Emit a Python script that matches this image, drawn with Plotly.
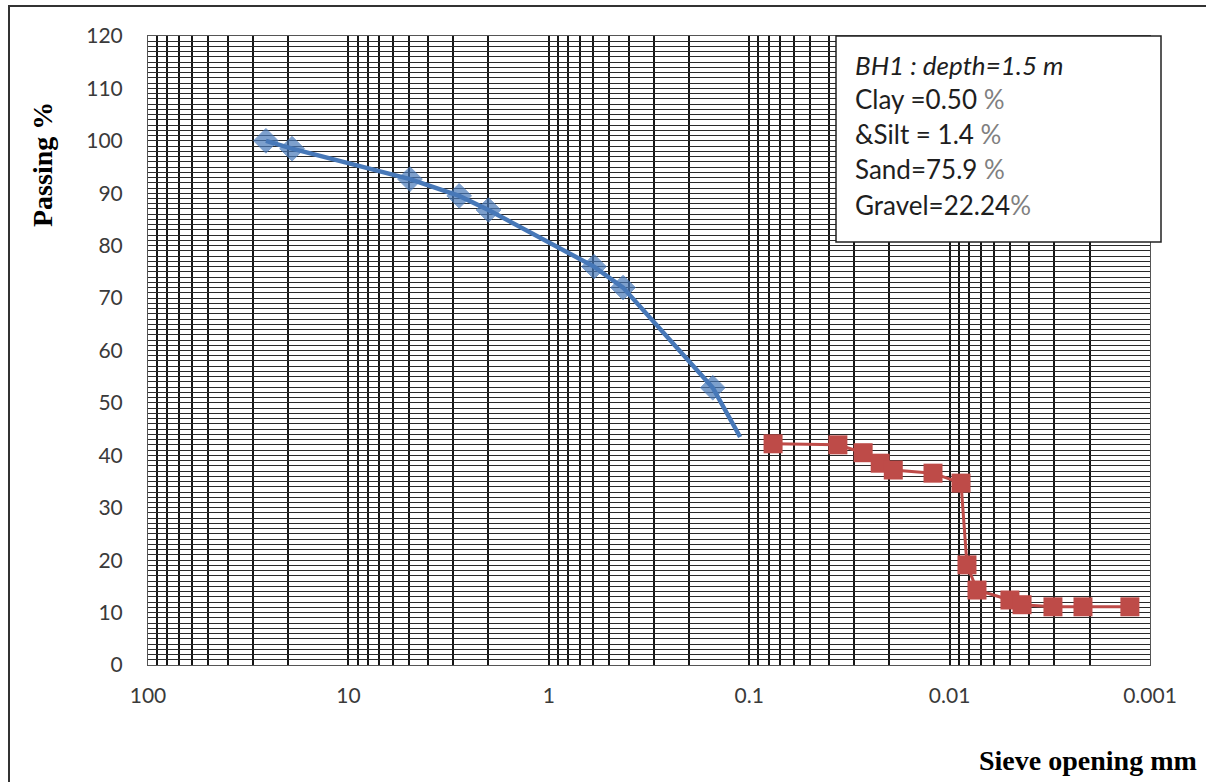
import plotly.graph_objects as go

# ---- data ----
blue_size_mm = [25.8, 19.1, 4.93, 2.8, 2.0, 0.595, 0.426, 0.152, 0.111]
blue_passing = [100.0, 98.5, 92.7, 89.5, 86.8, 76.0, 72.0, 52.9, 43.5]
blue_marker = [19, 19, 19, 19, 19, 19, 19, 19, 0]

red_size_mm = [0.076, 0.0361, 0.0270, 0.0222, 0.0191, 0.0121, 0.00877, 0.00819,
               0.0073, 0.0050, 0.00435, 0.00305, 0.00216, 0.00126]
red_passing = [42.2, 42.0, 40.5, 38.5, 37.2, 36.6, 34.7, 19.1,
               14.3, 12.4, 11.5, 11.1, 11.1, 11.1]

x_tick_vals = [100, 10, 1, 0.1, 0.01, 0.001]
x_tick_text = ["100", "10", "1", "0.1", "0.01", "0.001"]

info_lines = [
    "<i>BH1 : depth=1.5 m</i>",
    "Clay =0.50 <span style='color:#808080'>%</span>",
    "&amp;Silt = 1.4 <span style='color:#808080'>%</span>",
    "Sand=75.9 <span style='color:#808080'>%</span>",
    "Gravel=22.24<span style='color:#808080'>%</span>",
]

# grid positions (all 1..9 x 10^k)
grid_x = [m * 10.0 ** k for k in range(-3, 2) for m in range(1, 10)] + [100]
grid_text = []
for v in grid_x:
    lab = ""
    for t, s in zip(x_tick_vals, x_tick_text):
        if abs(v - t) / t < 1e-9:
            lab = s
    grid_text.append(lab)

grid_y = list(range(0, 121, 1))
grid_y_text = [str(v) if v % 10 == 0 else "" for v in grid_y]

fig = go.Figure()
fig.add_trace(go.Scatter(
    x=blue_size_mm, y=blue_passing, mode="lines+markers",
    line=dict(color="#4778b8", width=4.5),
    marker=dict(symbol="diamond", size=blue_marker, color="#4778b8",
                line=dict(color="#4778b8", width=1)),
    showlegend=False))
fig.add_trace(go.Scatter(
    x=red_size_mm, y=red_passing, mode="lines+markers",
    line=dict(color="#be4b48", width=3),
    marker=dict(symbol="square", size=19, color="#be4b48"),
    showlegend=False))

L, R, T, B = 148, 56, 36, 117
W, H = 1206, 782
pw, ph = W - L - R, H - T - B

def px(x):
    return (x - L) / pw

def py(y):
    return (H - B - y) / ph

fig.update_layout(
    width=W, height=H,
    margin=dict(l=L, r=R, t=T, b=B),
    paper_bgcolor="white", plot_bgcolor="white",
    font=dict(family="Lato", size=21, color="#3a3a3a"),
    xaxis=dict(type="log", range=[2, -3], tickmode="array",
               tickvals=grid_x, ticktext=grid_text,
               showgrid=True, gridcolor="#151515", gridwidth=2,
               ticks="", ticklabelstandoff=12, zeroline=False,
               showline=True, linecolor="#555", linewidth=1, mirror=True),
    yaxis=dict(range=[0, 120], tickmode="array",
               tickvals=grid_y, ticktext=grid_y_text,
               showgrid=True, gridcolor="#2a2a2a", gridwidth=1.4,
               ticks="", ticklabelstandoff=20, zeroline=False,
               showline=True, linecolor="#555", linewidth=1, mirror=True),
)

shapes = [
    dict(type="rect", xref="paper", yref="paper",
         x0=px(9), x1=px(1215), y0=py(795), y1=py(6),
         line=dict(color="#333", width=2), fillcolor="rgba(0,0,0,0)", layer="above"),
    dict(type="rect", xref="paper", yref="paper",
         x0=px(836), x1=px(1161), y0=py(242), y1=py(36),
         line=dict(color="#222", width=1.5), fillcolor="white", layer="above"),
]
fig.update_layout(shapes=shapes)

line_y = [65, 99, 134, 169, 205]
for txt, yy in zip(info_lines, line_y):
    fig.add_annotation(xref="paper", yref="paper", x=px(853), y=py(yy),
                       xanchor="left", yanchor="middle", text=txt, showarrow=False,
                       font=dict(family="Lato", size=26, color="#1e1e1e"))

fig.add_annotation(xref="paper", yref="paper", x=px(42), y=py(165),
                   text="<b>Passing %</b>", textangle=-90, showarrow=False,
                   xanchor="center", yanchor="middle",
                   font=dict(family="Liberation Serif", size=28, color="black"))
fig.add_annotation(xref="paper", yref="paper", x=px(1199), y=py(760),
                   text="<b>Sieve opening mm</b>", showarrow=False,
                   xanchor="right", yanchor="middle",
                   font=dict(family="Liberation Serif", size=28, color="black"))

fig.write_html("out.html")
